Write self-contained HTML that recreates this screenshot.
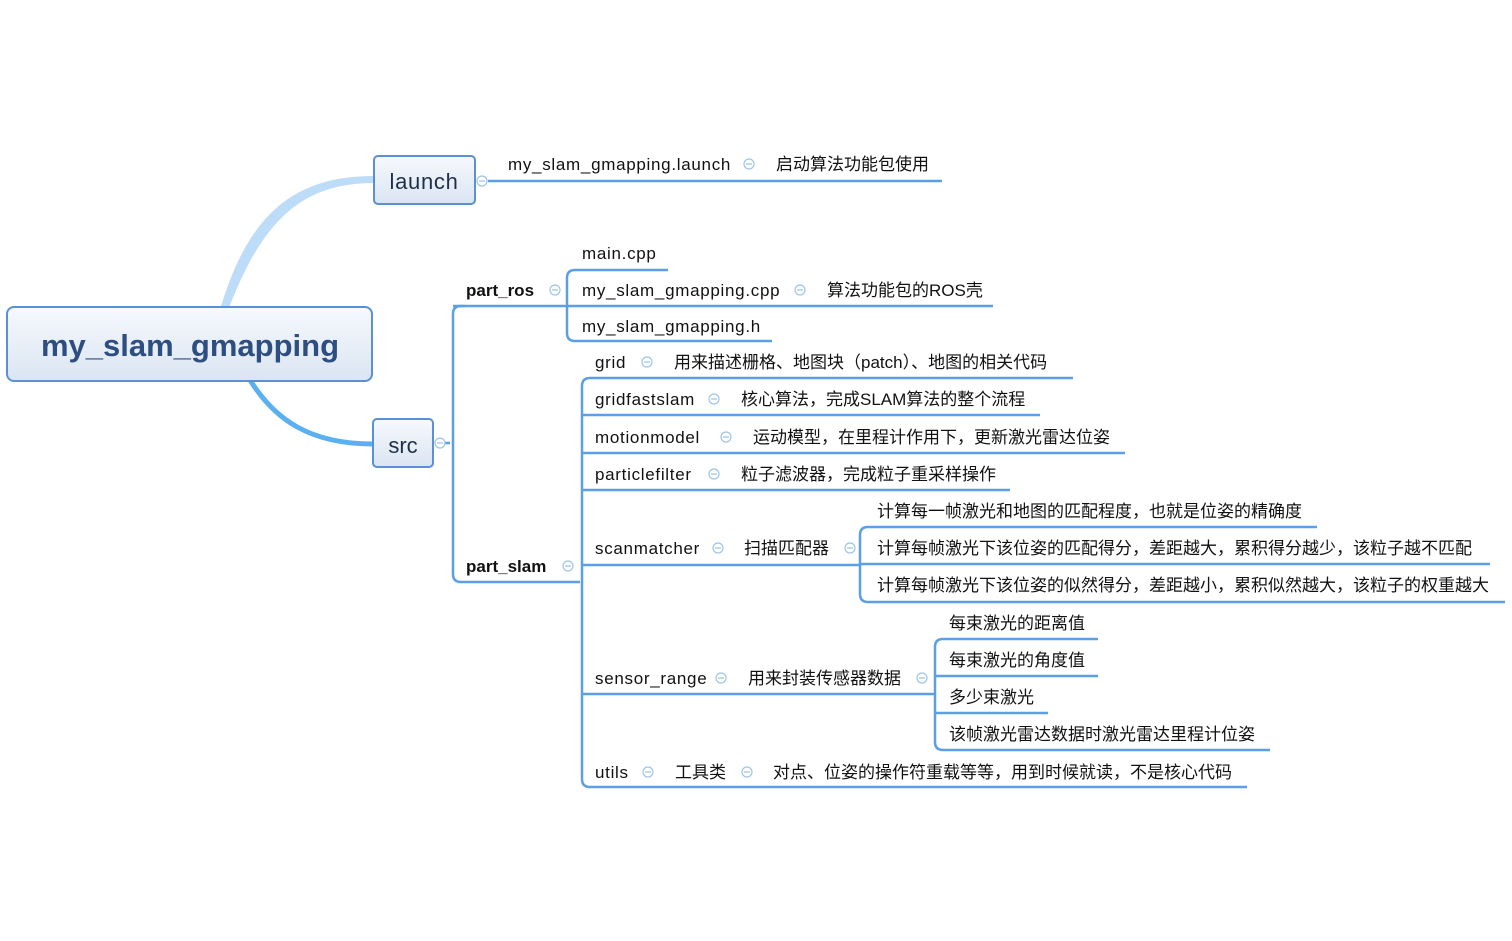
<!DOCTYPE html>
<html><head><meta charset="utf-8"><style>
body{margin:0;background:#fff;width:1512px;height:936px;overflow:hidden}
text{font-family:"Liberation Sans","Noto Sans CJK SC",sans-serif;font-size:17px;fill:#111}
.l{letter-spacing:0.7px}
</style></head><body>
<svg width="1512" height="936" xmlns="http://www.w3.org/2000/svg">
<defs>
<linearGradient id="g" x1="0" y1="0" x2="0" y2="1"><stop offset="0" stop-color="#f7f9fd"/><stop offset="1" stop-color="#dae5f2"/></linearGradient>
</defs>
<path d="M226,310 C260,220 300,181 374,181 L374,178 C295,178 250,215 222,310 Z" fill="#bcdcf7" stroke="#bcdcf7" stroke-width="4"/>
<path d="M250,380 C275,420 310,444 373,444" fill="none" stroke="#5ab0f0" stroke-width="5"/>
<g fill="none" stroke="#5b9fe6" stroke-width="2.5">
<path d="M488,181 H742"/><path d="M742,181 H942"/>
<path d="M445,443 H450"/>
<path d="M465,306 H461 Q453,306 453,314 V574 Q453,582 461,582 H575"/>
<path d="M453,306 H560"/>
<path d="M668,270 H575 Q567,270 567,278 V333 Q567,341 575,341 H772"/>
<path d="M560,306 H993"/>
<path d="M575,582 H580"/>
<path d="M1073,378 H590 Q582,378 582,386 V779 Q582,787 590,787 H1247"/>
<path d="M582,415 H1040"/>
<path d="M582,453 H1125"/>
<path d="M582,490 H1010"/>
<path d="M582,565 H860"/>
<path d="M582,694 H935"/>
<path d="M1317,527 H868 Q860,527 860,535 V594 Q860,602 868,602 H1505"/>
<path d="M860,564 H1490"/>
<path d="M1098,639 H943 Q935,639 935,647 V742 Q935,750 943,750 H1270"/>
<path d="M935,676 H1098"/>
<path d="M935,713 H1048"/>
</g>
<g fill="#fff" stroke="#9cc4ea" stroke-width="1.2">
<circle cx="482" cy="181" r="5"/><circle cx="440" cy="443" r="5"/><circle cx="749" cy="164" r="5"/>
<circle cx="555" cy="290" r="5"/><circle cx="800" cy="290" r="5"/><circle cx="568" cy="566" r="5"/>
<circle cx="647" cy="362" r="5"/><circle cx="714" cy="399" r="5"/><circle cx="726" cy="437" r="5"/>
<circle cx="714" cy="474" r="5"/><circle cx="718" cy="548" r="5"/><circle cx="850" cy="548" r="5"/>
<circle cx="721" cy="678" r="5"/><circle cx="922" cy="678" r="5"/><circle cx="648" cy="772" r="5"/><circle cx="747" cy="772" r="5"/>
</g>
<g stroke="#9cc4ea" stroke-width="1.2">
<path d="M479,181h6M437,443h6M746,164h6M552,290h6M797,290h6M565,566h6M644,362h6M711,399h6M723,437h6M711,474h6M715,548h6M847,548h6M718,678h6M919,678h6M645,772h6M744,772h6"/>
</g>
<rect x="7" y="307" width="365" height="74" rx="7" fill="url(#g)" stroke="#5b8fd6" stroke-width="2"/>
<text x="190" y="356" text-anchor="middle" style="font-size:31px;font-weight:bold;fill:#2d4e80">my_slam_gmapping</text>
<rect x="374" y="156" width="101" height="48" rx="4" fill="url(#g)" stroke="#5b8fd6" stroke-width="2"/>
<text x="424" y="189" text-anchor="middle" class="l" style="font-size:22px;fill:#1f2f4a">launch</text>
<rect x="373" y="419" width="60" height="48" rx="4" fill="url(#g)" stroke="#5b8fd6" stroke-width="2"/>
<text x="403" y="453" text-anchor="middle" style="font-size:22px;fill:#1f2f4a">src</text>
<text x="508" y="170" class="l">my_slam_gmapping.launch</text>
<text x="776" y="170">启动算法功能包使用</text>
<text x="466" y="296" style="font-weight:bold">part_ros</text>
<text x="466" y="572" style="font-weight:bold">part_slam</text>
<text x="582" y="259" class="l">main.cpp</text>
<text x="582" y="296" class="l">my_slam_gmapping.cpp</text>
<text x="827" y="296">算法功能包的ROS壳</text>
<text x="582" y="332" class="l">my_slam_gmapping.h</text>
<text x="595" y="368" class="l">grid</text>
<text x="674" y="368">用来描述栅格、地图块（patch）、地图的相关代码</text>
<text x="595" y="405" class="l">gridfastslam</text>
<text x="741" y="405">核心算法，完成SLAM算法的整个流程</text>
<text x="595" y="443" class="l">motionmodel</text>
<text x="753" y="443">运动模型，在里程计作用下，更新激光雷达位姿</text>
<text x="595" y="480" class="l">particlefilter</text>
<text x="741" y="480">粒子滤波器，完成粒子重采样操作</text>
<text x="595" y="554" class="l">scanmatcher</text>
<text x="744" y="554">扫描匹配器</text>
<text x="877" y="517">计算每一帧激光和地图的匹配程度，也就是位姿的精确度</text>
<text x="877" y="554">计算每帧激光下该位姿的匹配得分，差距越大，累积得分越少，该粒子越不匹配</text>
<text x="877" y="591">计算每帧激光下该位姿的似然得分，差距越小，累积似然越大，该粒子的权重越大</text>
<text x="595" y="684" class="l">sensor_range</text>
<text x="748" y="684">用来封装传感器数据</text>
<text x="949" y="629">每束激光的距离值</text>
<text x="949" y="666">每束激光的角度值</text>
<text x="949" y="703">多少束激光</text>
<text x="949" y="740">该帧激光雷达数据时激光雷达里程计位姿</text>
<text x="595" y="778" class="l">utils</text>
<text x="675" y="778">工具类</text>
<text x="773" y="778">对点、位姿的操作符重载等等，用到时候就读，不是核心代码</text>
</svg>
</body></html>
